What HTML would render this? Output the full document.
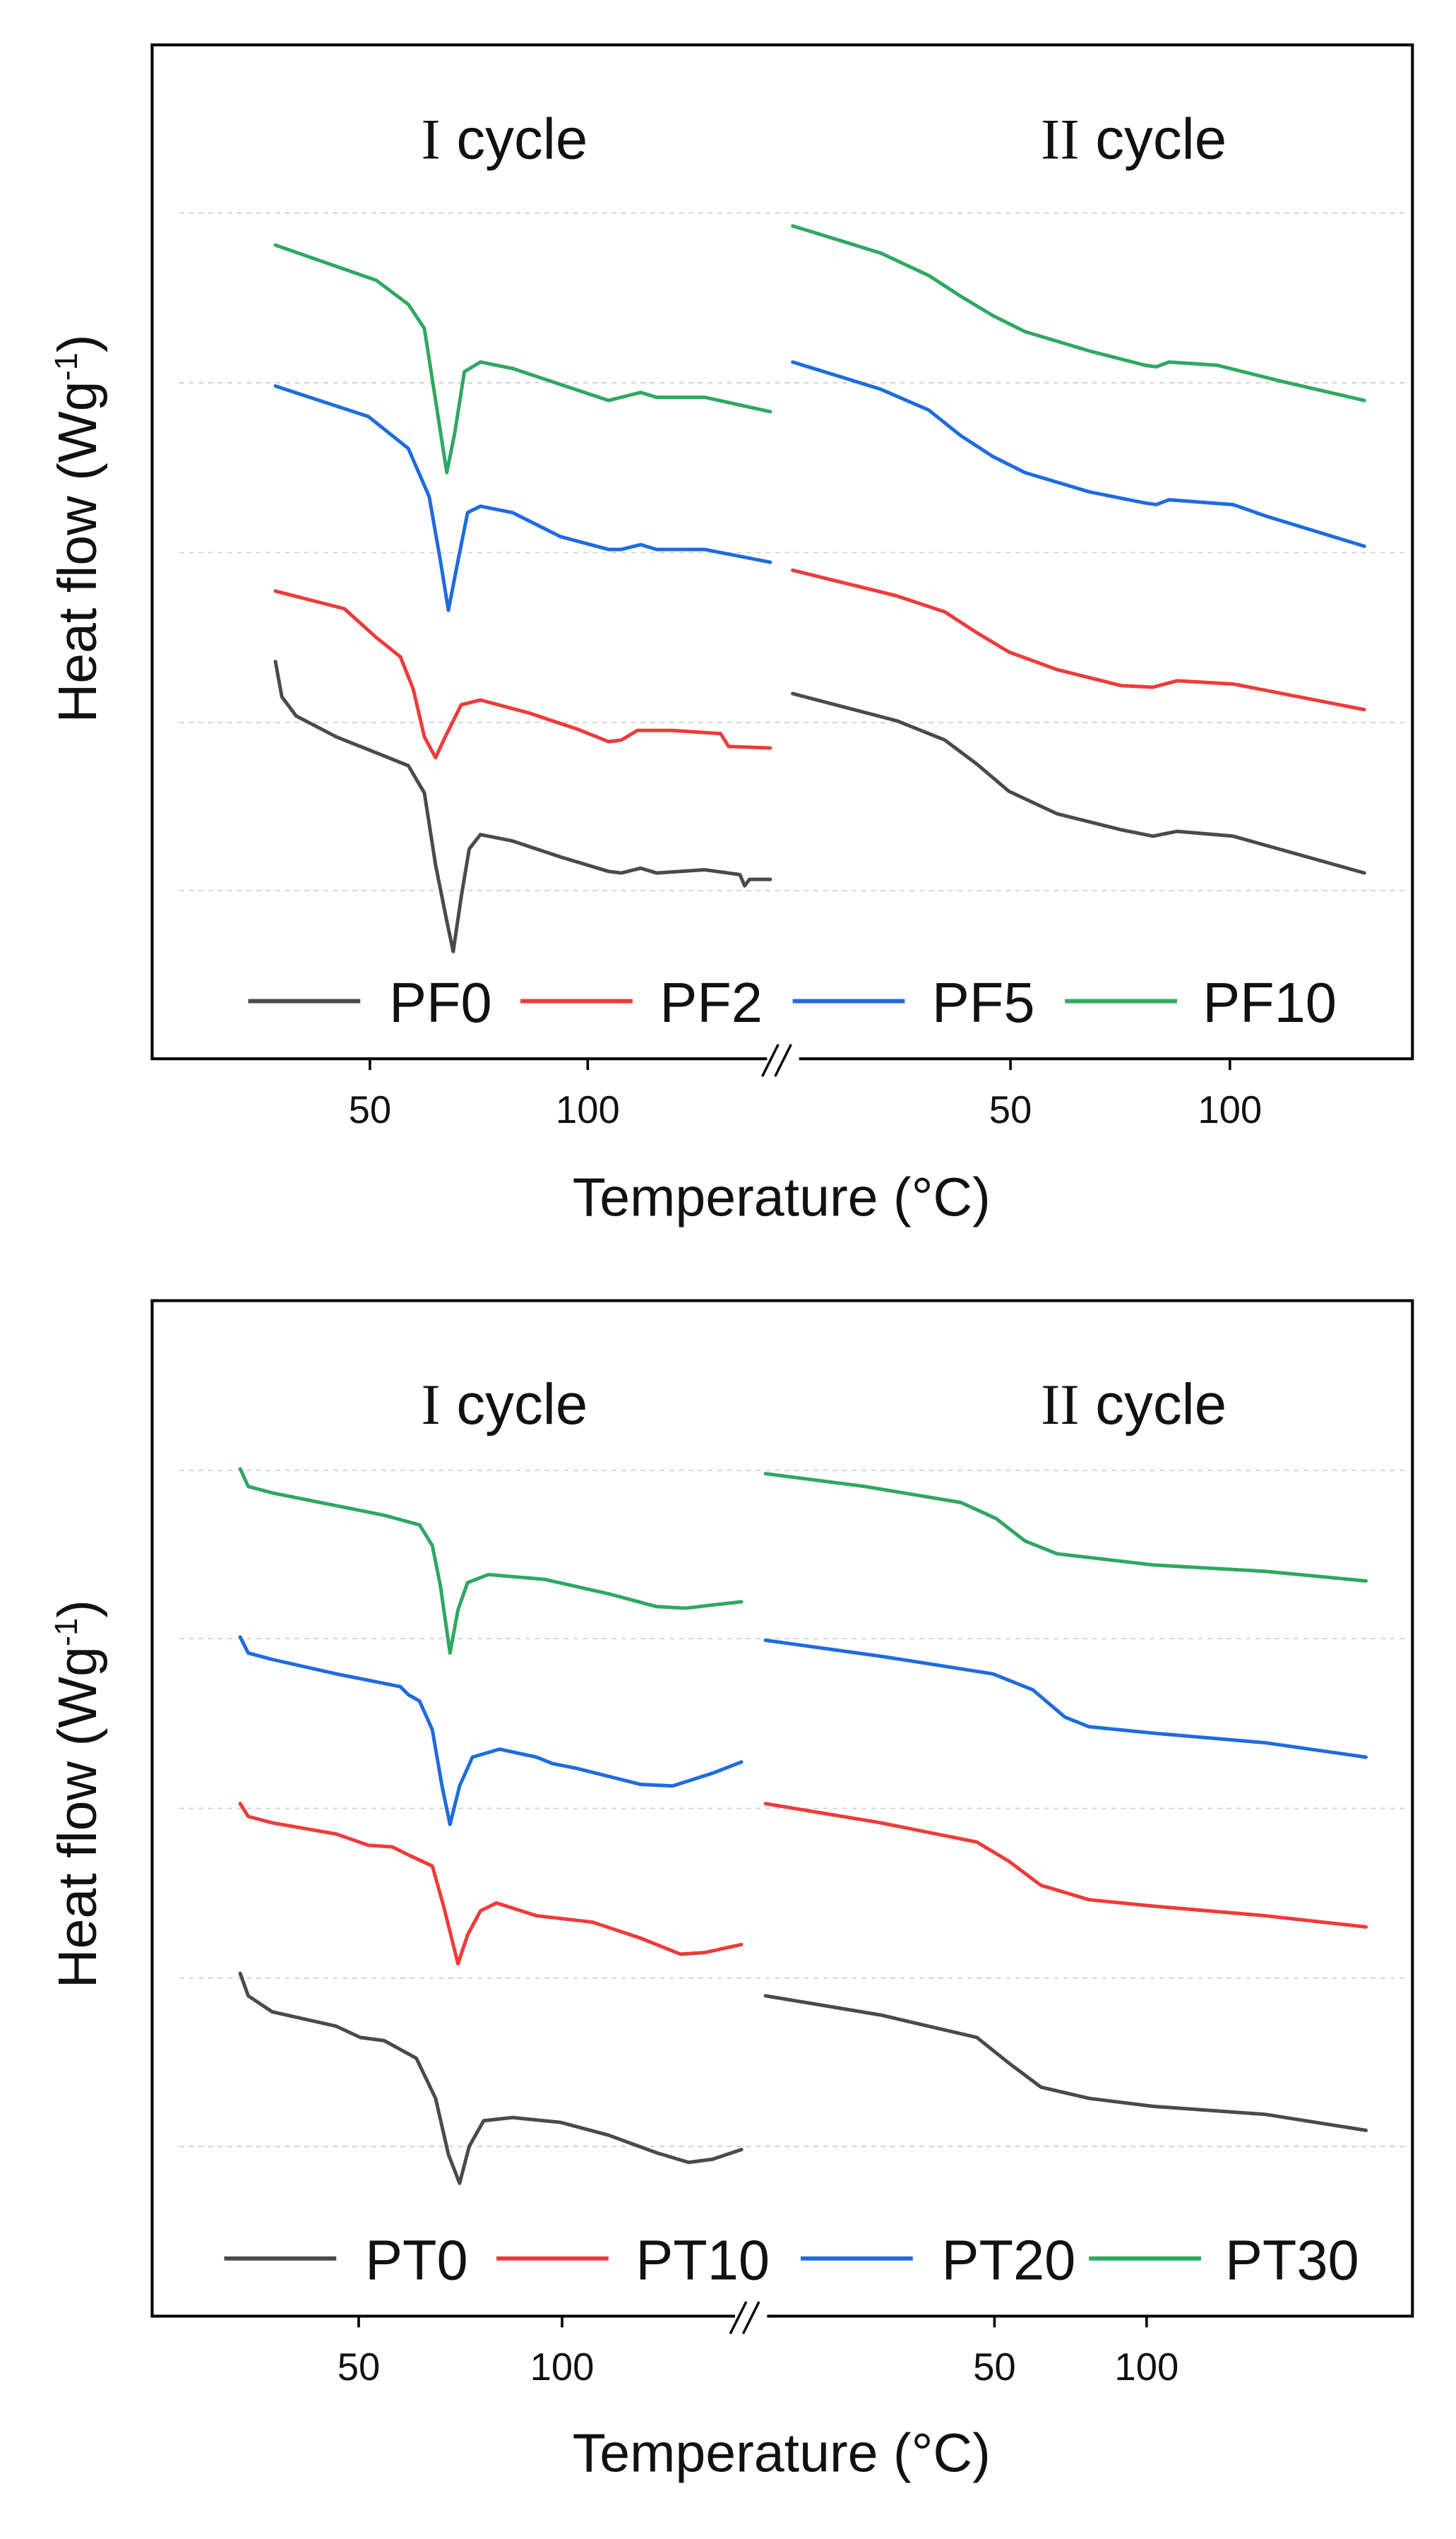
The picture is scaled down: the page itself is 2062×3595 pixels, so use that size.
<!DOCTYPE html>
<html><head><meta charset="utf-8"><style>
html,body{margin:0;padding:0;background:#fff;}
svg{display:block;}
text{font-family:"Liberation Sans","DejaVu Sans",sans-serif;fill:#111;}
</style></head><body>
<svg width="2062" height="3595" viewBox="0 0 909.2 1585.1" xmlns="http://www.w3.org/2000/svg">
<rect width="909.2" height="1585.1" fill="#fff"/>
<!-- ===== TOP PANEL ===== -->
<g stroke="#d0d0d0" stroke-width="0.8" stroke-dasharray="3,3">
<line x1="112" y1="133" x2="880" y2="133"/><line x1="112" y1="239" x2="880" y2="239"/>
<line x1="112" y1="345" x2="880" y2="345"/><line x1="112" y1="451" x2="880" y2="451"/>
<line x1="112" y1="556" x2="880" y2="556"/>
</g>
<rect x="95" y="28" width="787" height="633" fill="none" stroke="#000" stroke-width="1.8"/>
<g stroke="#000" stroke-width="1.6">
<line x1="231" y1="661" x2="231" y2="668"/><line x1="367" y1="661" x2="367" y2="668"/>
<line x1="631" y1="661" x2="631" y2="668"/><line x1="768" y1="661" x2="768" y2="668"/>
</g>
<rect x="479" y="656" width="20" height="10" fill="#fff"/>
<g stroke="#000" stroke-width="1.5"><line x1="476" y1="672" x2="486" y2="652"/><line x1="484" y1="672" x2="494" y2="652"/></g>
<g font-size="24" text-anchor="middle" fill="#222">
<text x="231" y="701">50</text><text x="367" y="701">100</text>
<text x="631" y="701">50</text><text x="768" y="701">100</text>
</g>
<text x="488" y="759" font-size="34" text-anchor="middle">Temperature (°C)</text>
<text transform="translate(60,330) rotate(-90)" font-size="34" text-anchor="middle">Heat flow (Wg<tspan font-size="20" dy="-12">-1</tspan><tspan dy="12">)</tspan></text>
<text x="315" y="99" font-size="36" text-anchor="middle"><tspan font-family="Liberation Serif,serif">I</tspan> cycle</text>
<text x="708" y="99" font-size="36" text-anchor="middle"><tspan font-family="Liberation Serif,serif">II</tspan> cycle</text>
<g fill="none" stroke-width="2.2" stroke-linejoin="round" stroke-linecap="round">
<polyline stroke="#2ea860" points="172,153 235,175 255,190 265,205 272,250 279,295 284,270 290,232 300,226 320,230 350,240 380,250 388,248 400,245 410,248 440,248 481,257"/>
<polyline stroke="#1e6be0" points="172,241 230,260 255,280 268,310 275,350 280,381 286,350 292,320 300,316 320,320 350,335 380,343 388,343 400,340 410,343 440,343 481,351"/>
<polyline stroke="#f03a3a" points="172,369 215,380 235,398 250,410 258,430 265,460 272,473 278,460 288,440 300,437 330,445 360,455 380,463 388,462 398,456 420,456 450,458 455,466 481,467"/>
<polyline stroke="#4a4a4a" points="172,413 176,435 185,447 210,460 235,470 255,478 265,495 272,540 279,575 283,594 288,560 293,530 300,521 320,525 350,535 380,544 388,545 400,542 410,545 440,543 462,546 465,553 468,549 481,549"/>
<polyline stroke="#2ea860" points="495,141 550,158 580,172 600,185 620,197 640,207 680,219 715,228 722,229 730,226 760,228 800,238 852,250"/>
<polyline stroke="#1e6be0" points="495,226 550,243 580,256 600,272 620,285 640,295 680,307 715,314 722,315 730,312 770,315 790,322 852,341"/>
<polyline stroke="#f03a3a" points="495,356 560,372 590,382 610,395 630,407 660,418 700,428 720,429 735,425 770,427 852,443"/>
<polyline stroke="#4a4a4a" points="495,433 560,450 590,462 610,477 630,494 660,508 700,518 720,522 735,519 770,522 852,545"/>
</g>
<g stroke-width="2.6">
<line x1="155" y1="625" x2="225" y2="625" stroke="#4a4a4a"/>
<line x1="325" y1="625" x2="395" y2="625" stroke="#f03a3a"/>
<line x1="495" y1="625" x2="565" y2="625" stroke="#1e6be0"/>
<line x1="665" y1="625" x2="735" y2="625" stroke="#2ea860"/>
</g>
<g font-size="35">
<text x="243" y="638">PF0</text><text x="412" y="638">PF2</text>
<text x="582" y="638">PF5</text><text x="751" y="638">PF10</text>
</g>
<!-- ===== BOTTOM PANEL ===== -->
<g stroke="#d0d0d0" stroke-width="0.8" stroke-dasharray="3,3">
<line x1="112" y1="918" x2="880" y2="918"/><line x1="112" y1="1023" x2="880" y2="1023"/>
<line x1="112" y1="1129" x2="880" y2="1129"/><line x1="112" y1="1235" x2="880" y2="1235"/>
<line x1="112" y1="1340" x2="880" y2="1340"/>
</g>
<rect x="95" y="812" width="787" height="634" fill="none" stroke="#000" stroke-width="1.8"/>
<g stroke="#000" stroke-width="1.6">
<line x1="224" y1="1446" x2="224" y2="1453"/><line x1="351" y1="1446" x2="351" y2="1453"/>
<line x1="621" y1="1446" x2="621" y2="1453"/><line x1="716" y1="1446" x2="716" y2="1453"/>
</g>
<rect x="459" y="1441" width="20" height="10" fill="#fff"/>
<g stroke="#000" stroke-width="1.5"><line x1="456" y1="1457" x2="466" y2="1437"/><line x1="464" y1="1457" x2="474" y2="1437"/></g>
<g font-size="24" text-anchor="middle" fill="#222">
<text x="224" y="1486">50</text><text x="351" y="1486">100</text>
<text x="621" y="1486">50</text><text x="716" y="1486">100</text>
</g>
<text x="488" y="1543" font-size="34" text-anchor="middle">Temperature (°C)</text>
<text transform="translate(60,1120) rotate(-90)" font-size="34" text-anchor="middle">Heat flow (Wg<tspan font-size="20" dy="-12">-1</tspan><tspan dy="12">)</tspan></text>
<text x="315" y="889" font-size="36" text-anchor="middle"><tspan font-family="Liberation Serif,serif">I</tspan> cycle</text>
<text x="708" y="889" font-size="36" text-anchor="middle"><tspan font-family="Liberation Serif,serif">II</tspan> cycle</text>
<g fill="none" stroke-width="2.2" stroke-linejoin="round" stroke-linecap="round">
<polyline stroke="#2ea860" points="150,917 155,928 170,932 210,940 240,946 262,952 270,965 275,990 281,1032 286,1005 292,988 305,983 340,986 380,995 410,1003 428,1004 445,1002 463,1000"/>
<polyline stroke="#1e6be0" points="150,1022 155,1032 170,1036 210,1045 250,1053 255,1058 262,1062 270,1080 276,1115 281,1139 287,1115 295,1097 312,1092 335,1097 345,1101 360,1104 400,1114 420,1115 445,1107 463,1100"/>
<polyline stroke="#f03a3a" points="150,1126 155,1134 170,1138 210,1145 230,1152 245,1153 255,1158 270,1165 277,1190 286,1226 292,1208 300,1193 310,1188 335,1196 370,1200 400,1210 425,1220 440,1219 463,1214"/>
<polyline stroke="#4a4a4a" points="150,1232 155,1246 170,1256 210,1265 225,1272 240,1274 260,1285 272,1310 280,1345 287,1363 293,1340 302,1324 320,1322 350,1325 380,1333 410,1344 430,1350 445,1348 463,1342"/>
<polyline stroke="#2ea860" points="478,920 540,928 600,938 622,948 640,962 660,970 720,977 790,981 853,987"/>
<polyline stroke="#1e6be0" points="478,1024 550,1034 620,1045 645,1055 665,1072 680,1078 720,1082 790,1088 853,1097"/>
<polyline stroke="#f03a3a" points="478,1126 550,1138 610,1150 630,1162 650,1177 680,1186 720,1190 790,1196 853,1203"/>
<polyline stroke="#4a4a4a" points="478,1246 550,1258 610,1272 630,1288 650,1303 680,1310 720,1315 790,1320 853,1330"/>
</g>
<g stroke-width="2.6">
<line x1="140" y1="1410" x2="210" y2="1410" stroke="#4a4a4a"/>
<line x1="310" y1="1410" x2="380" y2="1410" stroke="#f03a3a"/>
<line x1="500" y1="1410" x2="570" y2="1410" stroke="#1e6be0"/>
<line x1="680" y1="1410" x2="750" y2="1410" stroke="#2ea860"/>
</g>
<g font-size="35">
<text x="228" y="1423">PT0</text><text x="397" y="1423">PT10</text>
<text x="588" y="1423">PT20</text><text x="765" y="1423">PT30</text>
</g>
</svg>
</body></html>
